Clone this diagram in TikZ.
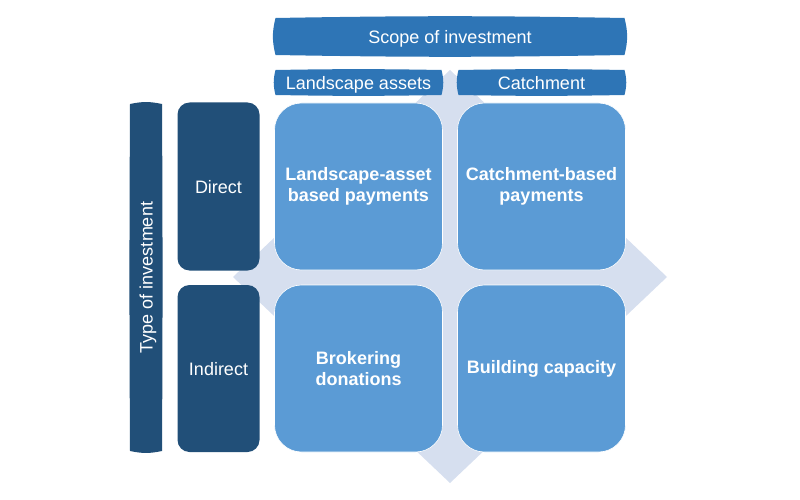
\documentclass[tikz,border=0pt]{standalone}
\usepackage{fontspec}
\setmainfont{Liberation Sans}
\usepackage{tikz}
\usetikzlibrary{positioning}

\definecolor{scopeblue}{RGB}{46,117,182}
\definecolor{typeblue}{RGB}{33,79,120}
\definecolor{cellblue}{RGB}{91,155,213}
\definecolor{crossblue}{RGB}{214,223,239}

\pgfdeclarelayer{back}
\pgfsetlayers{back,main}

% bar with slightly bulging edges, drawn round a named node
\newcommand{\barshape}[4]{%
  \fill[#2] (#1.north west) to[bend left=#3] (#1.north east)
    to[bend left=#4] (#1.south east) to[bend left=#3] (#1.south west)
    to[bend left=#4] cycle;}

\begin{document}
\begin{tikzpicture}[x=1pt,y=-1pt,node distance=15pt,
    every node/.style={font=\fontsize{18}{21}\selectfont,text=white,
                       inner sep=0pt,outer sep=0pt,align=center},
    bar/.style={text depth=0pt},
    side/.style={fill=typeblue,rounded corners=12pt,text depth=0pt},
    cell/.style={fill=cellblue,draw=white,line width=0.6pt,rounded corners=27pt,
                 minimum width=168pt,minimum height=167pt,
                 font=\fontsize{18}{21}\selectfont\bfseries}]

  \useasboundingbox (0,0) rectangle (800,500);

  % four-way arrow behind the grid
  \begin{pgfonlayer}{back}
    \fill[crossblue] (450,70) -- (667,277) -- (450,483) -- (233,277) -- cycle;
  \end{pgfonlayer}

  \node[cell] (la) at (358.5,186.5)  {Landscape-asset\\based payments};
  \node[cell] (cb) [right=of la]     {Catchment-based\\payments};
  \node[cell] (bd) [below=of la]     {Brokering\\donations};
  \node[cell] (bc) [below=of cb]     {Building capacity};

  \node[bar,minimum width=166pt,minimum height=25pt] (assets) [above=8pt of la] {Landscape assets};
  \node[bar,minimum width=166pt,minimum height=25pt] (catch)  [above=8pt of cb] {Catchment};
  \node[bar,minimum width=349pt,minimum height=37pt] (scope) at (450,36.5) {Scope of investment};

  \node[side,minimum width=82pt,minimum height=168pt] (direct)   [left=of la] {Direct};
  \node[side,minimum width=82pt,minimum height=167pt] (indirect) [left=of bd] {Indirect};
  \node[bar,rotate=90,minimum width=347pt,minimum height=32pt] (type) at (146,277.5) {Type of investment};

  \begin{pgfonlayer}{back}
    \barshape{assets}{scopeblue}{1}{14}
    \barshape{catch}{scopeblue}{1}{14}
    \barshape{scope}{scopeblue}{1}{14}
    \barshape{type}{typeblue}{0.3}{12}
  \end{pgfonlayer}

\end{tikzpicture}
\end{document}
